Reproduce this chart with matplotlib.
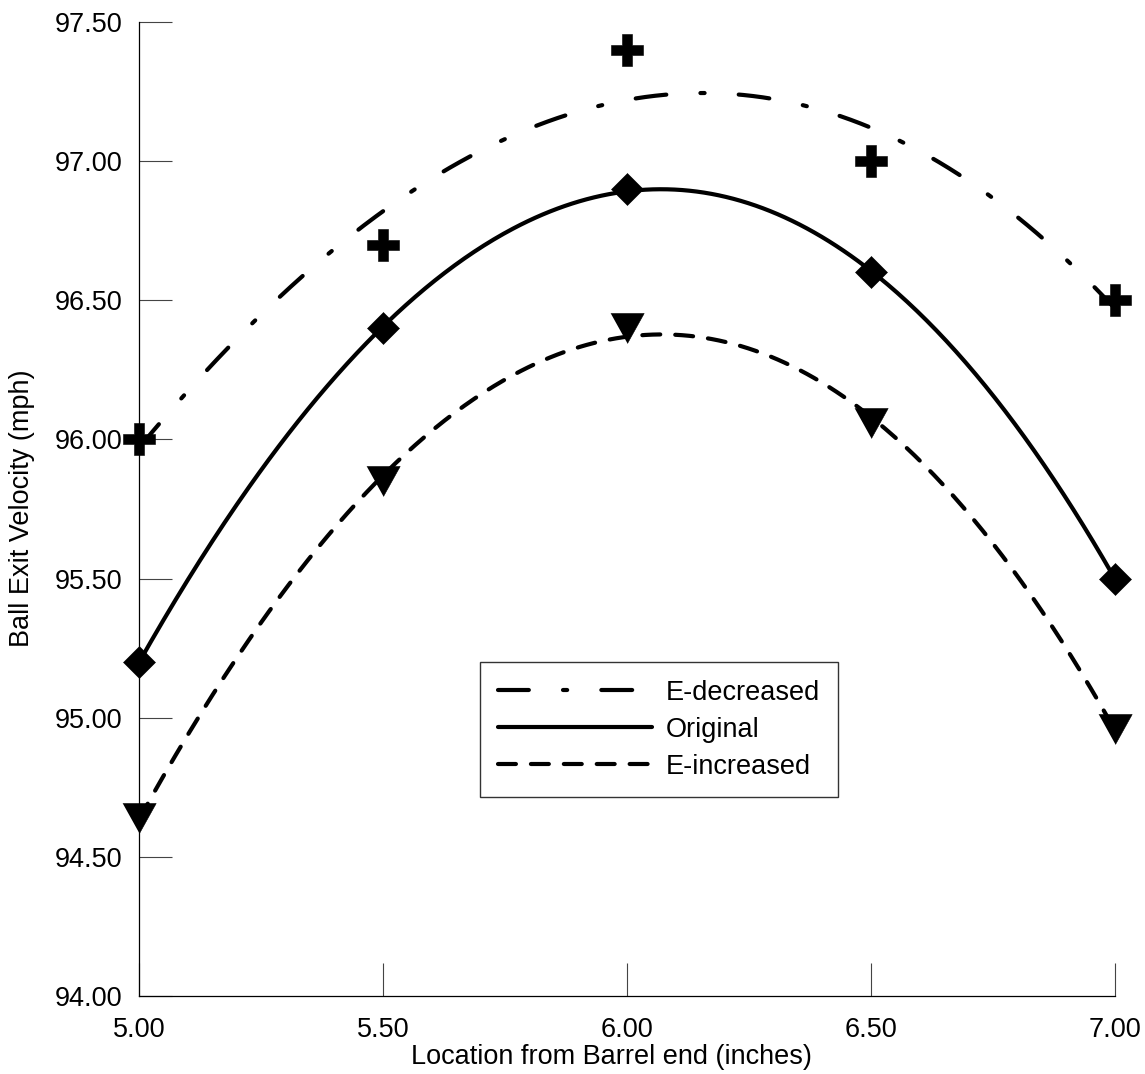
import numpy as np
import matplotlib
matplotlib.use("Agg")
import matplotlib.pyplot as plt

# Ball exit velocity vs. impact location for three stiffness cases
location = [5.00, 5.50, 6.00, 6.50, 7.00]
e_decreased = [96.00, 96.70, 97.40, 97.00, 96.50]
original = [95.20, 96.40, 96.90, 96.60, 95.50]
e_increased = [94.64, 95.85, 96.40, 96.06, 94.96]

series_names = ["E-decreased", "Original", "E-increased"]
x_ticks = [5.00, 5.50, 6.00, 6.50, 7.00]
y_ticks = [94.00, 94.50, 95.00, 95.50, 96.00, 96.50, 97.00, 97.50]

plt.rcParams["font.family"] = ["Liberation Sans", "DejaVu Sans"]
FS = 19.5

W, H = 1145, 1074
fig = plt.figure(figsize=(W / 100, H / 100), dpi=100)
ax = fig.add_axes([139 / W, 1 - 996 / H, (1115 - 139) / W, (996 - 22) / H])

x = np.array(location)
xs = np.linspace(x.min(), x.max(), 400)

LW = 3.0
styles = [
    dict(dashes=(7.4, 8.2, 1.0, 8.2)),
    dict(linestyle="-"),
    dict(dashes=(4.3, 3.6)),
]
tri_down = [(-1, 0.9), (1, 0.9), (0, -0.9)]
markers = [
    dict(marker="P", ms=23.5, mew=0.4),
    dict(marker="D", ms=16.5, mew=0.4),
    dict(marker=tri_down, ms=24, mew=0.4),
]

for ys, name, st, mk in zip([e_decreased, original, e_increased],
                            series_names, styles, markers):
    ys = np.array(ys)
    # third-order polynomial trend line through each series
    coef = np.polyfit(x, ys, 3)
    ax.plot(xs, np.polyval(coef, xs), color="black", lw=LW,
            dash_capstyle="round", solid_capstyle="round", label=name,
            clip_on=False, **st)
    ax.plot(x, ys, linestyle="none", color="black", mfc="black", mec="black",
            clip_on=False, zorder=5, **mk)

ax.set_xlim(5.0, 7.0)
ax.set_ylim(94.0, 97.5)
ax.set_xticks(x_ticks)
ax.set_yticks(y_ticks)
ax.set_xticklabels([f"{t:.2f}" for t in x_ticks])
ax.set_yticklabels([f"{t:.2f}" for t in y_ticks])

for side in ("top", "right"):
    ax.spines[side].set_visible(False)
for side in ("left", "bottom"):
    ax.spines[side].set_linewidth(0.9)
    ax.spines[side].set_color("black")

ax.tick_params(axis="both", direction="in", length=24, width=0.8,
               color="#444444", labelsize=FS, labelcolor="black")
ax.tick_params(axis="y", pad=12)
ax.tick_params(axis="x", pad=15)

fig.text(22 / W, 1 - 508 / H, "Ball Exit Velocity (mph)", rotation=90,
         ha="center", va="center", fontsize=FS)
fig.text(611 / W, 1 - 1057 / H, "Location from Barrel end (inches)",
         ha="center", va="center", fontsize=FS)

leg = ax.legend(loc="upper left",
                bbox_to_anchor=((480 - 139) / 976, (996 - 662) / 974),
                fontsize=19.5, frameon=True, fancybox=False, shadow=False,
                handlelength=5.7, handletextpad=0.5, borderpad=0.66,
                labelspacing=0.4, borderaxespad=0.0)
leg.get_frame().set_edgecolor("black")
leg.get_frame().set_linewidth(1.0)

fig.savefig("out.png", dpi=100, facecolor="white")
